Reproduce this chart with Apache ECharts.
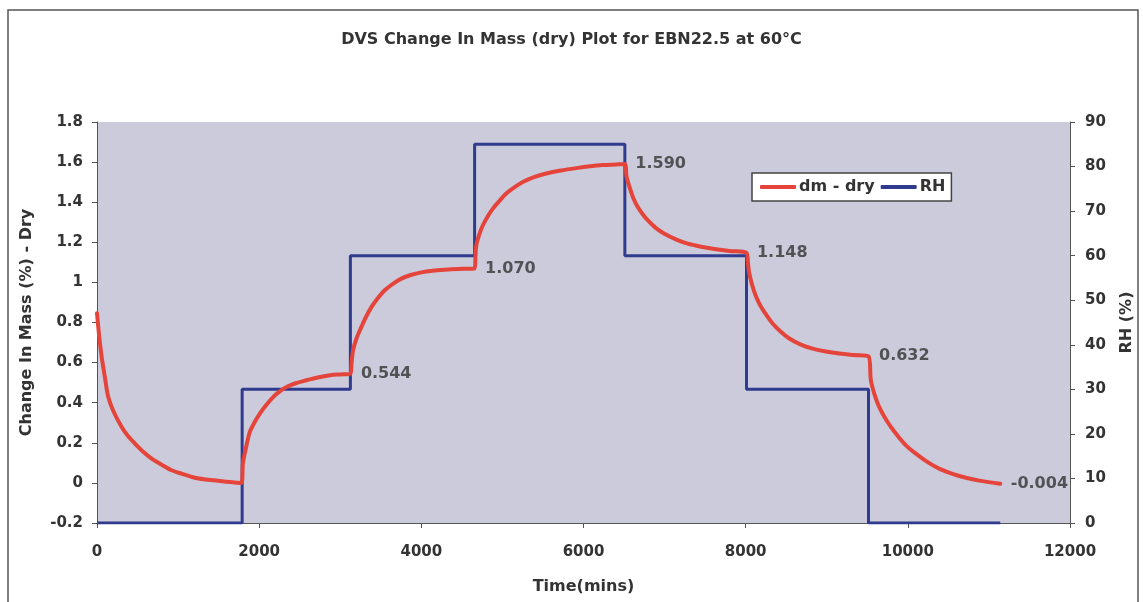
<!DOCTYPE html>
<html>
<head>
<meta charset="utf-8">
<title>DVS Change In Mass (dry) Plot</title>
<script src="https://cdn.jsdelivr.net/npm/echarts@6/dist/echarts.min.js"></script>
<style>
    html, body { margin: 0; padding: 0; background: #fff; }
    #main { width: 1143px; height: 602px; }
</style>
</head>
<body>
<div id="main"></div>
<script>
// dm - dry curve (time in mins, change in mass %)
var dmTimes = [
    0, 30, 58, 100, 139, 200, 304, 380, 468, 570, 674, 800, 920, 1050, 1207, 1400, 1600, 1780,
    1800, 1840, 1885, 1940, 2008, 2090, 2172, 2250, 2337, 2450, 2583, 2720, 2871, 3000, 3125,
    3140, 3158, 3200, 3261, 3320, 3384, 3460, 3548, 3650, 3754, 3870, 4000, 4140, 4287, 4450, 4657,
    4668, 4678, 4715, 4759, 4820, 4882, 4960, 5047, 5150, 5252, 5390, 5540, 5720, 5910, 6080, 6238, 6400, 6510,
    6530, 6567, 6615, 6669, 6730, 6792, 6890, 6998, 7140, 7285, 7450, 7614, 7800, 8010,
    8030, 8045, 8100, 8168, 8250, 8332, 8430, 8538, 8680, 8825, 8990, 9154, 9330, 9515,
    9544, 9590, 9646, 9740, 9852, 9970, 10099, 10240, 10386, 10550, 10715, 10900, 11140
];
var dmValues = [
    0.846, 0.72, 0.628, 0.52, 0.428, 0.36, 0.279, 0.235, 0.196, 0.155, 0.121, 0.09, 0.063, 0.045, 0.026, 0.014, 0.006, 0.0,
    0.1, 0.18, 0.254, 0.30, 0.346, 0.39, 0.428, 0.455, 0.478, 0.497, 0.512, 0.526, 0.537, 0.541, 0.544,
    0.6, 0.661, 0.72, 0.778, 0.83, 0.877, 0.92, 0.961, 0.993, 1.019, 1.037, 1.05, 1.058, 1.063, 1.067, 1.070,
    1.13, 1.185, 1.24, 1.285, 1.33, 1.368, 1.405, 1.443, 1.475, 1.501, 1.525, 1.543, 1.558, 1.57, 1.579, 1.585, 1.588, 1.590,
    1.53, 1.476, 1.42, 1.376, 1.34, 1.31, 1.272, 1.243, 1.215, 1.193, 1.178, 1.167, 1.157, 1.148,
    1.09, 1.044, 0.96, 0.894, 0.84, 0.795, 0.755, 0.72, 0.69, 0.67, 0.655, 0.645, 0.638, 0.632,
    0.512, 0.44, 0.379, 0.31, 0.246, 0.19, 0.146, 0.105, 0.071, 0.045, 0.026, 0.01, -0.004
];
// points that carry a value label (end of each RH step)
var labelTimes = [3125, 4657, 6510, 8010, 9515, 11140];

// RH steps: level holds from each time until the next one
var rhTimes = [0, 1790, 3125, 4657, 6510, 8010, 9515, 11140];
var rhLevels = [0, 30, 60, 85, 60, 30, 0, 0];

var font = '"DejaVu Sans", sans-serif';

var dmData = dmTimes.map(function (t, i) {
    return [t, dmValues[i]];
});
var labelData = labelTimes.map(function (t) {
    return [t, dmValues[dmTimes.indexOf(t)]];
});
var rhData = rhTimes.map(function (t, i) {
    return [t, rhLevels[i]];
});

var chart = echarts.init(document.getElementById('main'));
var axisText = { fontFamily: font, fontSize: 15, fontWeight: 'bold', color: '#333' };
var nameText = { fontFamily: font, fontSize: 16, fontWeight: 'bold', color: '#333' };

var option = {
    backgroundColor: '#fff',
    animation: false,
    graphic: [{
        type: 'rect',
        shape: { x: 8, y: 10, width: 1130, height: 610 },
        style: { fill: 'none', stroke: '#555', lineWidth: 1.5 },
        silent: true
    }],
    title: {
        text: 'DVS Change In Mass (dry) Plot for EBN22.5 at 60°C',
        left: 'center',
        top: 32,
        padding: 0,
        textStyle: nameText
    },
    legend: {
        left: 752,
        top: 173,
        padding: [6, 6, 6, 8],
        backgroundColor: '#fff',
        borderColor: '#444',
        borderWidth: 1.5,
        borderRadius: 0,
        itemWidth: 36,
        itemHeight: 4,
        itemGap: 6,
        icon: 'roundRect',
        textStyle: Object.assign({ padding: [0, 0, 0, -2] }, nameText),
        data: ['dm - dry', 'RH']
    },
    grid: {
        left: 97,
        right: 72,
        top: 122,
        bottom: 79,
        show: true,
        backgroundColor: '#cbcbdb',
        borderWidth: 0
    },
    xAxis: {
        type: 'value',
        min: 0,
        max: 12000,
        interval: 2000,
        name: 'Time(mins)',
        nameLocation: 'middle',
        nameGap: 56,
        nameTextStyle: nameText,
        axisLine: { show: true, onZero: false, lineStyle: { color: '#555', width: 1 } },
        axisTick: { show: true, length: 5, lineStyle: { color: '#555' } },
        axisLabel: Object.assign({
            margin: 22,
            formatter: function (v) { return String(v); }
        }, axisText),
        splitLine: { show: false }
    },
    yAxis: [{
        type: 'value',
        min: -0.2,
        max: 1.8,
        interval: 0.2,
        name: 'Change In Mass (%) - Dry',
        nameLocation: 'middle',
        nameGap: 62,
        nameTextStyle: nameText,
        axisLine: { show: true, onZero: false, lineStyle: { color: '#555', width: 1 } },
        axisTick: { show: true, length: 5, lineStyle: { color: '#555' } },
        axisLabel: Object.assign({
            margin: 14,
            formatter: function (v) { return String(Math.round(v * 10) / 10); }
        }, axisText),
        splitLine: { show: false }
    }, {
        type: 'value',
        min: 0,
        max: 90,
        interval: 10,
        name: 'RH (%)',
        nameLocation: 'middle',
        nameGap: 49,
        nameTextStyle: nameText,
        axisLine: { show: true, onZero: false, lineStyle: { color: '#555', width: 1 } },
        axisTick: { show: true, length: 5, lineStyle: { color: '#555' } },
        axisLabel: Object.assign({ margin: 15 }, axisText),
        splitLine: { show: false }
    }],
    series: [{
        name: 'dm - dry',
        type: 'line',
        yAxisIndex: 0,
        showSymbol: false,
        symbol: 'none',
        smooth: 0.3,
        color: '#e5443b',
        lineStyle: { width: 4, color: '#e5443b', cap: 'round', join: 'round' },
        data: dmData,
        z: 3
    }, {
        name: 'RH',
        type: 'line',
        yAxisIndex: 1,
        step: 'end',
        showSymbol: false,
        symbol: 'none',
        color: '#2f3b8e',
        lineStyle: { width: 3, color: '#2f3b8e' },
        data: rhData,
        z: 2
    }, {
        name: 'labels',
        type: 'scatter',
        yAxisIndex: 0,
        symbolSize: 1,
        itemStyle: { color: 'rgba(0,0,0,0)' },
        label: {
            show: true,
            position: 'right',
            distance: 10,
            fontFamily: font,
            fontSize: 16,
            fontWeight: 'bold',
            color: '#333',
            formatter: function (p) { return p.value[1].toFixed(3); }
        },
        data: labelData,
        z: 4
    }]
};

chart.setOption(option);

window.onresize = chart.resize;
</script>
</body>
</html>
